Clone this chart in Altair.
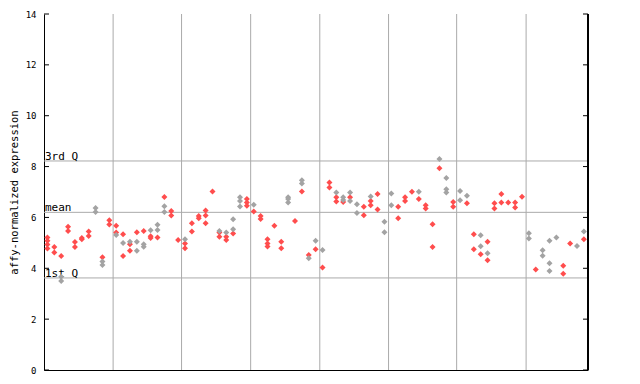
import altair as alt
import pandas as pd

# column index of each sample, values (affy-normalized expression) and colour group
red_col = [0,0,0,0, 1,1, 2, 3,3, 4,4, 5,5, 6,6, 8, 9,9,
           10,10, 11,11, 12,12, 13, 14, 15,15, 16, 17, 18,18, 19,
           20,20, 21,21, 22,22, 23,23,23, 24, 25,25, 26,26, 27, 29,29,29,
           30, 31,31, 32,32,32, 33, 34,34, 36, 37, 38, 39, 40,
           41,41, 42,42, 43, 44, 46,46, 47,47, 48,48, 51,51, 52,52, 53, 54, 55,55, 56,56, 57,
           59,59, 61, 62,62, 63, 64,64, 65,65, 66,66, 67, 68,68, 69,
           71, 75,75, 76, 78]
red_val = [5.21,5.08,4.94,4.78, 4.84,4.62, 4.48, 5.63,5.47, 5.03,4.84, 5.19,5.14, 5.45,5.27, 4.43, 5.89,5.72,
           5.67,5.41, 5.34,4.48, 4.95,4.69, 5.42, 5.47, 5.26,5.19, 5.21, 6.80, 6.25,6.08, 5.11,
           4.97,4.79, 5.77,5.45, 6.06,5.97, 6.27,6.08,5.77, 7.02, 5.41,5.24, 5.24,5.11, 5.37, 6.72,6.59,6.46,
           6.23, 6.06,5.94, 5.14,4.97,4.86, 5.67, 5.04,4.79, 5.86, 7.02, 4.52, 4.75, 4.03,
           7.37,7.18, 6.79,6.63, 6.61, 6.79, 6.42,6.09, 6.65,6.48, 6.92,6.31, 6.42,5.97, 6.79,6.65, 7.01, 6.72, 6.48,6.35, 5.73,4.84, 7.93,
           6.61,6.42, 6.56, 5.34,4.75, 4.55, 5.04,4.32, 6.56,6.35, 6.92,6.59, 6.59, 6.59,6.39, 6.81,
           3.95, 4.10,3.79, 4.97, 5.14]

gray_col = [2,2, 7,7, 8,8, 10, 11, 12, 13,13, 14,14, 15, 16,16, 17,17,
            20, 25, 26, 27,27, 28,28,28, 30, 35,35,35, 37,37, 38, 39, 40,
            42, 43,43, 44,44, 45,45, 47, 49,49, 50,50, 54, 57, 58,58,58,
            60,60, 61, 63,63, 64, 70,70, 72,72, 73,73,73, 74, 77, 78]
gray_val = [3.67,3.50, 6.37,6.21, 4.27,4.13, 5.31, 4.99, 5.04, 5.04,4.69, 4.95,4.85, 5.50, 5.71,5.51, 6.44,6.21,
            5.14, 5.47, 5.41, 5.93,5.54, 6.79,6.65,6.43, 6.50, 6.79,6.72,6.59, 7.46,7.33, 4.39, 5.08, 4.72,
            6.98, 6.79,6.69, 6.98,6.65, 6.52,6.17, 6.82, 5.83,5.42, 6.94,6.48, 7.01, 8.30, 7.55,7.11,6.98,
            7.04,6.68, 6.85, 5.30,4.87, 4.59, 5.38,5.17, 4.71,4.49, 5.08,4.20,3.89, 5.21, 4.88, 5.45]

group_bounds = [9.55, 19.5, 29.55, 39.6, 49.6, 59.5, 69.6]
quart_vals = [8.22, 6.2, 3.62]
quart_labels = ["3rd Q", "mean", "1st Q"]
y_ticks = [0, 2, 4, 6, 8, 10, 12, 14]

W, H = 544, 356
FONT = "DejaVu Sans Mono"

pts = pd.concat([
    pd.DataFrame({"col": red_col, "val": red_val, "grp": "red"}),
    pd.DataFrame({"col": gray_col, "val": gray_val, "grp": "gray"}),
])

xs = alt.Scale(domain=[-0.5, 78.6], nice=False, zero=False)
ys = alt.Scale(domain=[0, 14], nice=False, zero=True)

base_axis_y = alt.Axis(values=y_ticks, grid=False, ticks=False, domain=True,
                       domainColor="black", labelFont=FONT, labelFontSize=9,
                       labelColor="black", labelPadding=8,
                       title="affy-normalized expression", titleFont=FONT,
                       titleFontSize=10.5, titleFontWeight="normal", titleColor="black",
                       titleX=-30, titleY=H / 2, titleAlign="center",
                       titleBaseline="middle")

vgrid = alt.Chart(pd.DataFrame({"b": group_bounds})).mark_rule(
    color="#aaaaaa", strokeWidth=1).encode(
    x=alt.X("b:Q", scale=xs, axis=alt.Axis(labels=False, ticks=False, grid=False,
                                           domainColor="black", title=None)),
)

qdf = pd.DataFrame({"v": quart_vals, "t": quart_labels})
hgrid = alt.Chart(qdf).mark_rule(color="#aaaaaa", strokeWidth=1).encode(
    y=alt.Y("v:Q", scale=ys, axis=base_axis_y),
)
qtext = alt.Chart(qdf).mark_text(align="left", baseline="alphabetic", font=FONT,
                                 fontSize=11, color="black", dx=1, dy=-1).encode(
    x=alt.value(0), y=alt.Y("v:Q", scale=ys), text="t:N")

tdf = pd.DataFrame({"t": y_ticks})
lticks = alt.Chart(tdf).mark_rule(color="black").encode(
    y=alt.Y("t:Q", scale=ys), x=alt.value(0), x2=alt.value(5))
rticks = alt.Chart(tdf).mark_rule(color="black").encode(
    y=alt.Y("t:Q", scale=ys), x=alt.value(W - 5), x2=alt.value(W))
rborder = alt.Chart(tdf).mark_rule(color="black").encode(
    x=alt.value(W), y=alt.value(0), y2=alt.value(H))

points = alt.Chart(pts).mark_point(shape="diamond", filled=True, size=36, opacity=1).encode(
    x=alt.X("col:Q", scale=xs),
    y=alt.Y("val:Q", scale=ys),
    color=alt.Color("grp:N", scale=alt.Scale(domain=["red", "gray"],
                                             range=["#ff4d4d", "#a3a3a3"]), legend=None),
)

chart = alt.layer(vgrid, hgrid, qtext, points, lticks, rticks, rborder).properties(
    width=W, height=H,
    autosize=alt.AutoSizeParams(type="none"),
    padding={"left": 36, "top": 6, "right": 40, "bottom": 10},
).configure_view(stroke=None).configure_axis(labelFont=FONT)

chart.save("out.html", embed_options={"renderer": "svg", "actions": False})
